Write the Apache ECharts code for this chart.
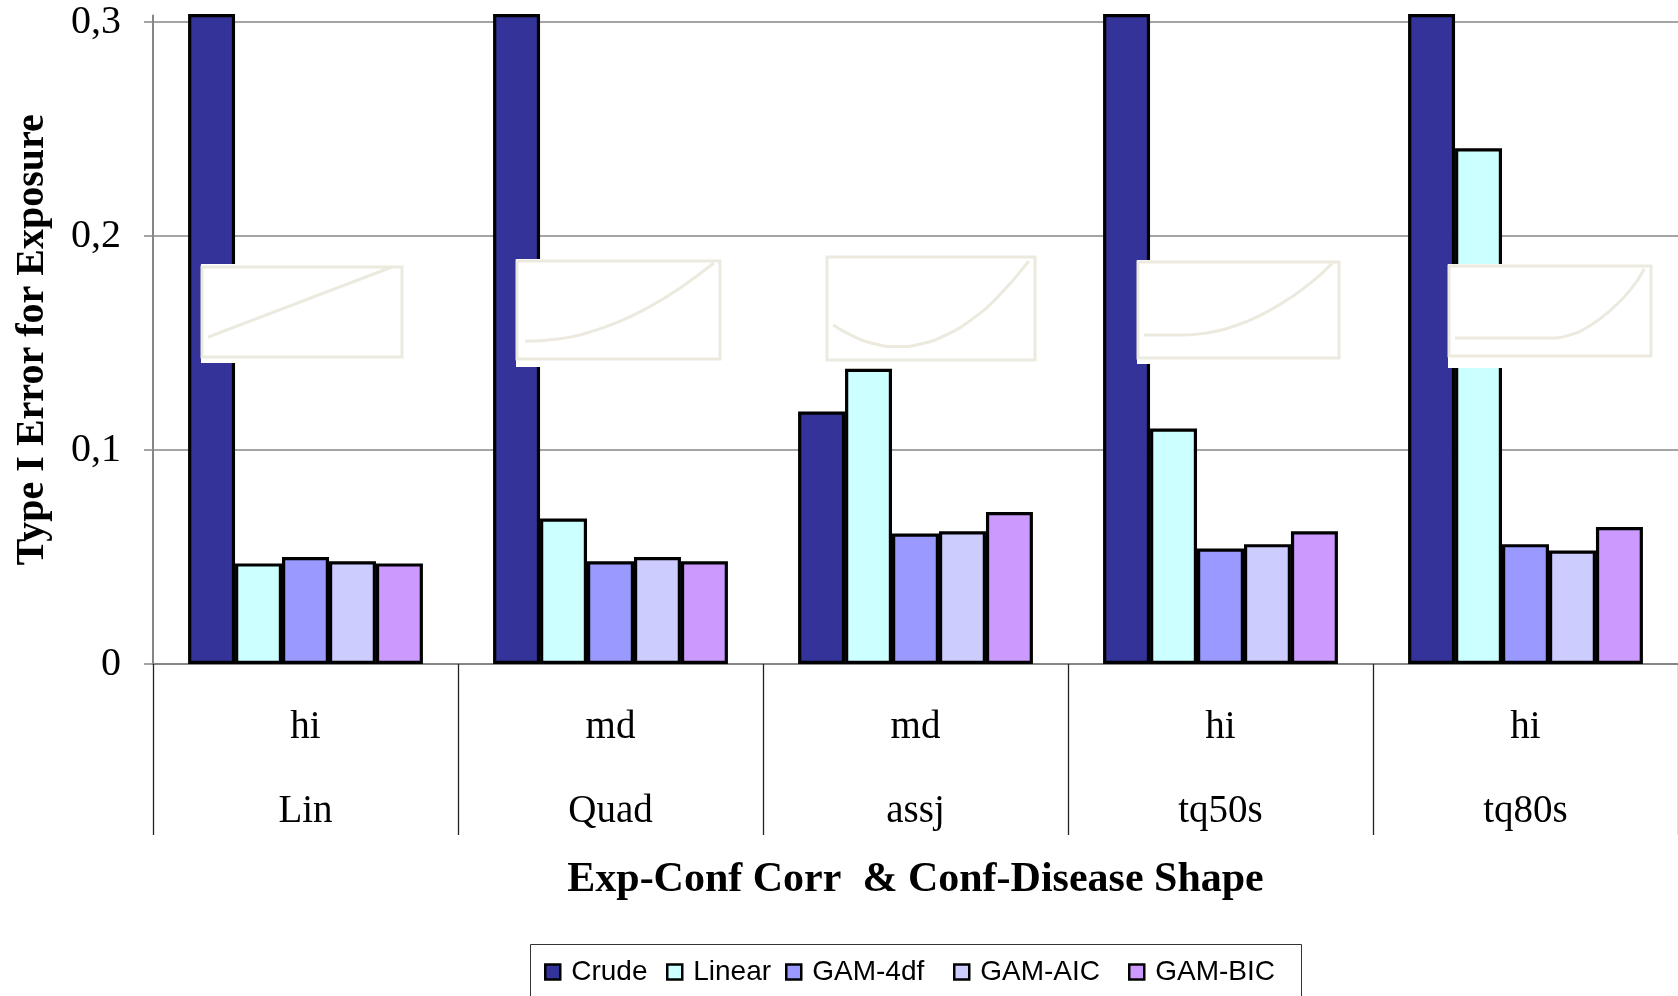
<!DOCTYPE html>
<html>
<head>
<meta charset="utf-8">
<script src="https://cdn.jsdelivr.net/npm/echarts@6/dist/echarts.min.js"></script>
<style>
  html, body { margin: 0; padding: 0; background: #ffffff; }
  #chart { width: 1678px; height: 996px; }
</style>
</head>
<body>
<div id="chart"></div>
<script>
// Scenario labels: exposure–confounder correlation, confounder–disease shape
const corrLevels = ['hi', 'md', 'md', 'hi', 'hi'];
const shapes = ['Lin', 'Quad', 'assj', 'tq50s', 'tq80s'];

// Type I error for the exposure under each adjustment method
const seriesNames = ['Crude', 'Linear', 'GAM-4df', 'GAM-AIC', 'GAM-BIC'];
const crude  = [0.40, 0.40, 0.118, 0.40, 0.40];   // off the top of the axis except for assj
const linear = [0.047, 0.068, 0.138, 0.110, 0.241];
const gam4df = [0.050, 0.048, 0.061, 0.054, 0.056];
const gamAIC = [0.048, 0.050, 0.062, 0.056, 0.053];
const gamBIC = [0.047, 0.048, 0.071, 0.062, 0.064];

// Value-axis ticks
const yTicks = [0, 0.1, 0.2, 0.3];

// Small sketches of the confounder–disease shape (x, y within the sketch box, 0..1)
const sketchLin   = [[0.03, 0.22], [0.95, 1.0]];
const sketchQuad  = [[0.04, 0.18], [0.20, 0.204], [0.35, 0.269], [0.50, 0.378], [0.65, 0.53], [0.80, 0.72], [0.97, 0.98]];
const sketchAssj  = [[0.03, 0.34], [0.12, 0.236], [0.22, 0.161], [0.34, 0.13], [0.46, 0.16], [0.58, 0.25], [0.70, 0.40], [0.82, 0.61], [0.97, 0.96]];
const sketchTq50s = [[0.03, 0.24], [0.12, 0.24], [0.22, 0.24], [0.32, 0.254], [0.43, 0.30], [0.54, 0.38], [0.65, 0.49], [0.76, 0.63], [0.87, 0.80], [0.965, 0.985]];
const sketchTq80s = [[0.03, 0.20], [0.20, 0.20], [0.35, 0.20], [0.50, 0.20], [0.60, 0.235], [0.70, 0.34], [0.80, 0.51], [0.90, 0.74], [0.967, 0.97]];

const sketches = [sketchLin, sketchQuad, sketchAssj, sketchTq50s, sketchTq80s];
const seriesValues = [crude, linear, gam4df, gamAIC, gamBIC];
const barColors = ['#333399', '#CCFFFF', '#9999FF', '#CCCCFF', '#CC99FF'];

// Layout of the sketch boxes (frame and white backing), in pixels
const sketchFrames = [
  { x: 202,  y: 267, w: 200, h: 90 },
  { x: 517,  y: 261, w: 203, h: 98 },
  { x: 827,  y: 257, w: 208, h: 103 },
  { x: 1138, y: 262, w: 201, h: 96 },
  { x: 1449, y: 266, w: 202, h: 90 }
];
const sketchBacks = [
  { x: 201,  y: 264, w: 202, h: 99 },
  { x: 516,  y: 259, w: 205, h: 108 },
  { x: 825,  y: 255, w: 212, h: 108 },
  { x: 1137, y: 260, w: 204, h: 104 },
  { x: 1448, y: 264, w: 204, h: 104 }
];
const legendLefts = [544, 666, 785, 953, 1128];

const SERIF = "'Liberation Serif', 'Times New Roman', serif";
const SANS = "'Liberation Sans', Arial, sans-serif";
const GRID_GRAY = '#868686';
const SKETCH = '#ECE9DE';

const categories = shapes.map((s, i) => corrLevels[i] + '\n' + s);

const grids = [{ left: 153, top: 15.6, width: 1530, height: 648.4, show: false }];
const xAxes = [{
  type: 'category',
  gridIndex: 0,
  data: categories,
  boundaryGap: true,
  axisLine: { show: true, lineStyle: { color: GRID_GRAY, width: 2 } },
  axisTick: { show: true, interval: 0, length: 171, lineStyle: { color: '#222', width: 1.3 } },
  axisLabel: {
    interval: 0, margin: 22, color: '#000',
    fontFamily: SERIF, fontSize: 39, lineHeight: 84
  },
  name: 'Exp-Conf Corr  & Conf-Disease Shape',
  nameLocation: 'middle',
  nameGap: 190,
  nameTextStyle: { fontFamily: SERIF, fontWeight: 'bold', fontSize: 42, color: '#000' }
}];
const yAxes = [{
  type: 'value',
  gridIndex: 0,
  min: 0,
  max: 0.303,
  interval: 0.1,
  axisLine: { show: true, lineStyle: { color: GRID_GRAY, width: 2 } },
  axisTick: { show: true, customValues: yTicks, length: 9, lineStyle: { color: GRID_GRAY, width: 1.5 } },
  axisLabel: {
    customValues: yTicks,
    margin: 32, color: '#000', fontFamily: SERIF, fontSize: 40,
    formatter: v => (Math.abs(v * 10 - Math.round(v * 10)) > 1e-6 ? '' : String(+v.toFixed(1)).replace('.', ','))
  },
  splitLine: { show: true, lineStyle: { color: [GRID_GRAY, GRID_GRAY, GRID_GRAY, GRID_GRAY, 'rgba(0,0,0,0)'], width: 1.5 } },
  name: 'Type I Error for Exposure',
  nameLocation: 'middle',
  nameGap: 100,
  nameTextStyle: { fontFamily: SERIF, fontWeight: 'bold', fontSize: 40, color: '#000' }
}];

const series = seriesNames.map((name, i) => ({
  name,
  type: 'bar',
  xAxisIndex: 0,
  yAxisIndex: 0,
  data: seriesValues[i],
  barGap: '0%',
  barCategoryGap: '23%',
  clip: true,
  z: 2,
  itemStyle: { color: barColors[i], borderColor: '#000', borderWidth: 3.2 }
}));

// Sketch boxes: each is its own tiny grid with hidden unit axes
const graphics = [];
sketches.forEach((pts, k) => {
  const f = sketchFrames[k];
  const b = sketchBacks[k];
  graphics.push({
    type: 'rect', z: 20, silent: true,
    shape: { x: b.x, y: b.y, width: b.w, height: b.h },
    style: { fill: '#ffffff', stroke: null }
  });
  grids.push({
    left: f.x, top: f.y, width: f.w, height: f.h,
    show: true, backgroundColor: 'rgba(0,0,0,0)', borderColor: SKETCH, borderWidth: 3, z: 21
  });
  xAxes.push({ type: 'value', gridIndex: k + 1, min: 0, max: 1, show: false });
  yAxes.push({ type: 'value', gridIndex: k + 1, min: 0, max: 1, show: false });
  series.push({
    type: 'line',
    xAxisIndex: k + 1,
    yAxisIndex: k + 1,
    data: pts,
    smooth: pts.length > 2 ? 0.5 : false,
    showSymbol: false,
    silent: true,
    clip: false,
    z: 22,
    lineStyle: { color: SKETCH, width: 3 }
  });
});

// Legend frame
graphics.push({
  type: 'rect', z: 1, silent: true,
  shape: { x: 530.5, y: 944.5, width: 771, height: 70 },
  style: { fill: 'rgba(0,0,0,0)', stroke: '#333', lineWidth: 1 }
});

const legends = seriesNames.map((name, i) => ({
  data: [name],
  left: legendLefts[i],
  top: 958,
  padding: 0,
  itemWidth: 15,
  itemHeight: 15,
  icon: 'rect',
  selectedMode: false,
  itemStyle: { borderColor: '#000', borderWidth: 2.5 },
  textStyle: { fontFamily: SANS, fontSize: 28, color: '#000', padding: [0, 0, 0, 6] }
}));

const chart = echarts.init(document.getElementById('chart'), null, { renderer: 'canvas' });
chart.setOption({
  animation: false,
  backgroundColor: '#ffffff',
  grid: grids,
  xAxis: xAxes,
  yAxis: yAxes,
  legend: legends,
  graphic: graphics,
  series
});
</script>
</body>
</html>
